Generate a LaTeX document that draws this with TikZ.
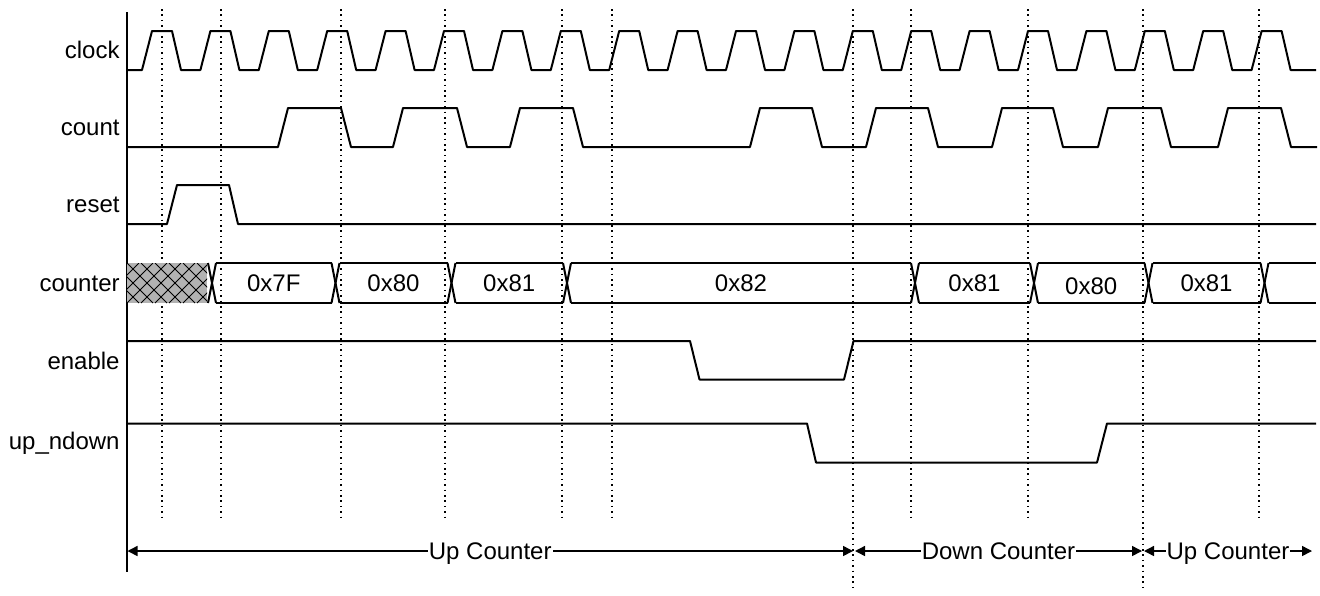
\documentclass[tikz,border=0pt]{standalone}
\usepackage{fontspec}
\setmainfont{Liberation Sans}
\usetikzlibrary{arrows.meta}
\begin{document}
\begin{tikzpicture}[x=0.5pt, y=-0.5pt, line join=round,
  sig/.style={line width=1pt},
  grid/.style={line width=0.8pt, dash pattern=on 0.8pt off 1.9pt},
  siglabel/.style={anchor=east, inner sep=0pt, font=\fontsize{12}{14}\selectfont},
  busval/.style={inner sep=0pt, font=\fontsize{12}{14}\selectfont},
  span/.style={line width=0.75pt, {Triangle[length=5pt,width=5pt]}-{Triangle[length=5pt,width=5pt]}},
  spanlabel/.style={fill=white, inner sep=0.5pt, text height=8.6pt, text depth=0pt,
    font=\fontsize{12}{14}\selectfont}]
\useasboundingbox (0,0) rectangle (1320,595);
% dotted markers
\foreach \x in {162,221,341,445,562,612,911,1028,1259}
  \draw[grid] (\x,9) -- (\x,519);
\foreach \x in {853,1143}
  \draw[grid] (\x,9) -- (\x,592);
\draw[line width=1.1pt] (127,12) -- (127,572);
% labels
\node[siglabel] (lclock) at (120,50) {clock};
\node[siglabel] (lcount) at (120,128) {count};
\node[siglabel] (lreset) at (120,205) {reset};
\node[siglabel] (lcounter) at (120,284) {counter};
\node[siglabel] (lenable) at (120,361) {enable};
\node[siglabel] (lupdown) at (120,443) {up\_ndown};
% clock
\draw[sig] (127,70) \foreach \i in {0,...,19}
  { -- ({142+58.4*\i},70) -- ({152+58.4*\i},31) -- ({172+58.4*\i},31) -- ({181+58.4*\i},70) }
  -- (1316,70);
% count
\draw[sig] (127,147) \foreach \a/\b in {278/341,393/457,510/573,750/812,866/928,992/1053,1098/1161,1218/1281}
  { -- (\a,147) -- ({\a+10},108) -- (\b,108) -- ({\b+10},147) }
  -- (1317,147);
% reset
\draw[sig] (127,224) -- (167,224) -- (177,185) -- (229,185) -- (238,224) -- (1316,224);
% counter
\begin{scope}
\clip (127,263) rectangle (207,303);
\fill[black!30] (127,263) rectangle (207,303);
\foreach \k in {-3,...,6} {
  \draw[line width=0.45pt] ({127+14*\k},263) -- ++(40,40);
  \draw[line width=0.45pt] ({127+14*\k},303) -- ++(40,-40);
}
\end{scope}
\draw[sig] (208,263) -- (216,303);
\draw[sig] (208,303) -- (216,263);
\foreach \a/\b/\v/\dy in {212/335.5/0x7F/0,335.5/451.5/0x80/0,451.5/567/0x81/0,567/915/0x82/0,
                          915/1034/0x81/0,1034/1148.5/0x80/3,1148.5/1264.5/0x81/0} {
  \draw[sig] ({\a+4},263) -- ({\b-4},263);
  \draw[sig] ({\a+4},303) -- ({\b-4},303);
  \draw[sig] ({\b-4},263) -- ({\b+4},303);
  \draw[sig] ({\b-4},303) -- ({\b+4},263);
  \node[busval] at ({(\a+\b)/2},{283+\dy}) {\v};
}
\draw[sig] (1268.5,263) -- (1316,263);
\draw[sig] (1268.5,303) -- (1316,303);
% enable
\draw[sig] (127,341) -- (690,341) -- (699.5,379.5) -- (844,379.5) -- (853.5,341) -- (1316,341);
% up_ndown
\draw[sig] (127,423.5) -- (807,423.5) -- (816,462.5) -- (1097,462.5) -- (1107,423.5) -- (1316,423.5);
% modes
\coordinate (m0) at (127.5,551);
\coordinate (m1) at (853,551);
\coordinate (m2) at (855,551);
\coordinate (m3) at (1142,551);
\coordinate (m4) at (1144,551);
\coordinate (m5) at (1312,551);
\draw[span] (m0) -- node[spanlabel] (up1) {Up Counter} (m1);
\draw[span] (m2) -- node[spanlabel] (down) {Down Counter} (m3);
\draw[span] (m4) -- node[spanlabel] (up2) {Up Counter} (m5);
\end{tikzpicture}
\end{document}
